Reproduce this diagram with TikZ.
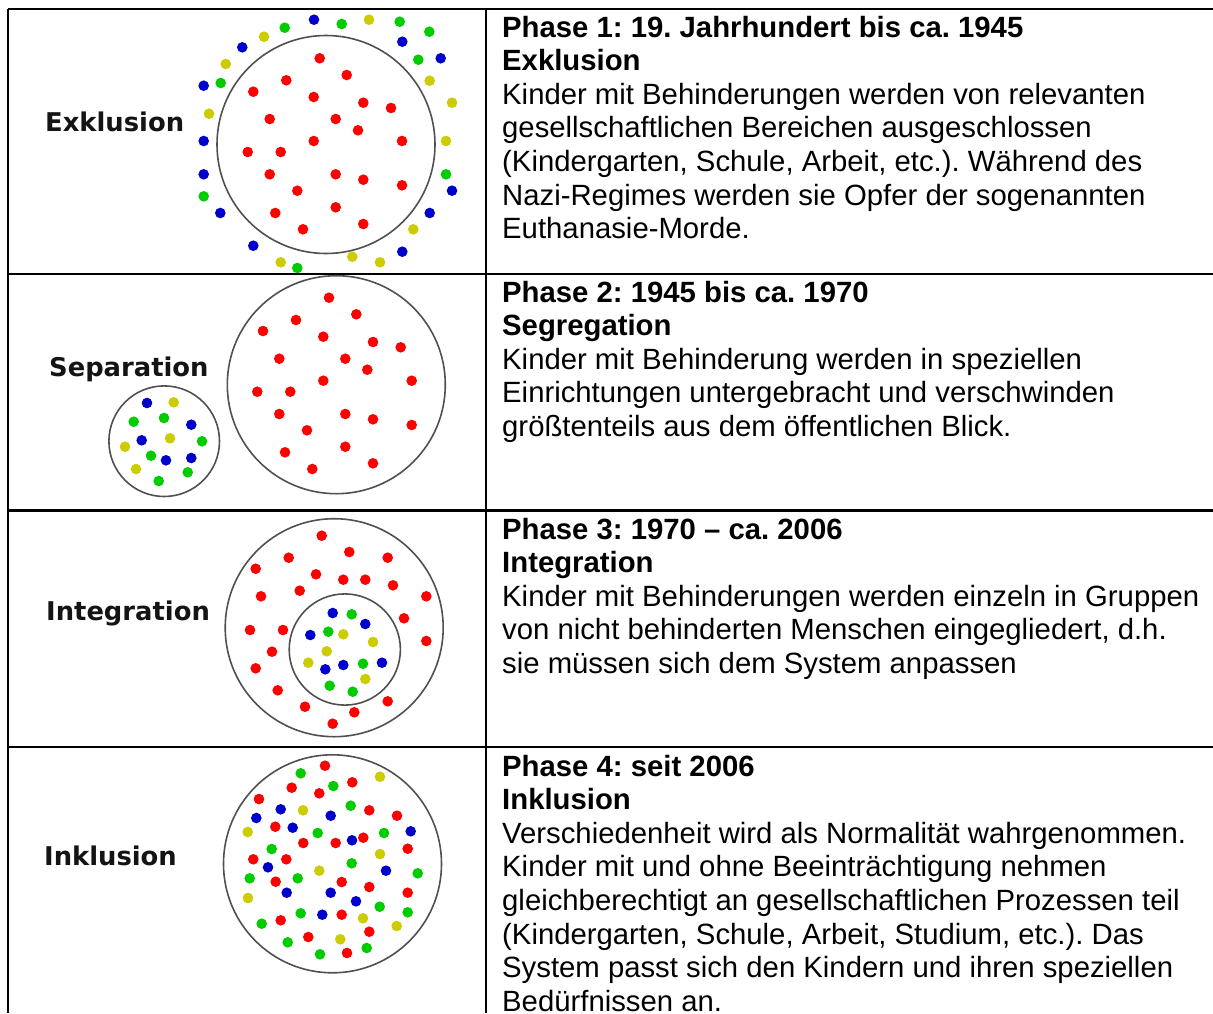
\documentclass[tikz,border=0pt]{standalone}
\usepackage{fontspec}
\setmainfont{Liberation Sans}
\newfontfamily\labfont{DejaVu Sans}
\frenchspacing
\definecolor{dR}{HTML}{FF0000}
\definecolor{dG}{HTML}{00CC00}
\definecolor{dB}{HTML}{0000CC}
\definecolor{dY}{HTML}{CCCC00}
\definecolor{ring}{HTML}{505050}
\begin{document}
\begin{tikzpicture}[x=1pt,y=-1pt,
  rule/.style={line width=2.5pt,black},
  ringc/.style={draw=ring,line width=1.6pt},
  lab/.style={anchor=base west,inner sep=0pt,font=\labfont\bfseries\fontsize{25.8}{30}\selectfont,text=black!92},
  txt/.style={anchor=base west,inner sep=0pt,font=\frenchspacing\fontsize{29.3}{33.6}\selectfont},
  txtb/.style={txt,font=\frenchspacing\bfseries\fontsize{29.3}{33.6}\selectfont}]
\useasboundingbox (0,0) rectangle (1213,1013);
% table rules
\coordinate (tl) at (8,9);
\coordinate (tr) at (1213,9);
\coordinate (bl) at (8,1013);
\coordinate (mt) at (486,9);
\coordinate (mb) at (486,1013);
\coordinate (r1l) at (8,274); \coordinate (r1r) at (1213,274);
\coordinate (r2l) at (8,510.5); \coordinate (r2r) at (1213,510.5);
\coordinate (r3l) at (8,747); \coordinate (r3r) at (1213,747);
\draw[rule] (tl) -- (tr);
\draw[rule] (r1l) -- (r1r);
\draw[rule] (r2l) -- (r2r);
\draw[rule] (r3l) -- (r3r);
\draw[rule] (tl) -- (bl);
\draw[rule] (mt) -- (mb);
% labels
\node[lab] (l1) at (45,131) {Exklusion};
\node[lab] (l2) at (49,376) {Separation};
\node[lab] (l3) at (46,620) {Integration};
\node[lab] (l4) at (44,865) {Inklusion};
% ---- Exklusion
\draw[ringc] (326,144.5) circle[radius=109pt];
\foreach \p in {(319.7,58.3),(346.7,75),(286.3,80.3),(253.3,91.7),(313.7,97),(363.3,102.7),(391,108),(269.7,119),(335.7,119),(358,130.3),(313.7,141),(402,141),(247.7,152),(280.7,152),(269.7,174.3),(335.7,174.3),(363.3,179.7),(402,185.3),(297.3,190.7),(275.3,213),(335.7,207.3),(363.3,224),(303,229.3)}
  \fill[dR] \p circle[radius=5.3pt];
\foreach \p in {(314,19.7),(402.3,41.7),(242.3,47.3),(203.7,85.7),(203.7,141),(203.7,174.3),(220.3,213),(253.3,245.7),(402.3,251.7),(429.7,213),(452,190.7),(440.7,58.3)}
  \fill[dB] \p circle[radius=5.3pt];
\foreach \p in {(341.7,24),(399.7,21.7),(429.3,31.7),(284.7,27.7),(220.7,83),(203.7,196.3),(297.3,268),(446,174.3),(418.3,59.7)}
  \fill[dG] \p circle[radius=5.3pt];
\foreach \p in {(369,19.7),(264,36.7),(225.7,64),(209,113.7),(280.7,262.3),(352.3,256.7),(380,262.3),(413.3,229.3),(446,141),(452,102.7),(429.7,80.7)}
  \fill[dY] \p circle[radius=5.3pt];
% ---- Separation
\draw[ringc] (336.3,384.7) circle[radius=109pt];
\draw[ringc] (164.2,441.2) circle[radius=55.3pt];
\foreach \p in {(329,297.7),(356.3,314.3),(296,320),(263,331),(323.3,336.7),(373,342),(400.7,347.3),(279.3,358.7),(345.3,358.7),(367.3,369.7),(323.3,380.7),(411.7,380.7),(257.3,391.7),(290.3,391.7),(279.3,414),(345.3,414),(373,419.3),(411.7,425),(307,430.3),(285,452.3),(345.3,446.7),(373,463.3),(312.3,469)}
  \fill[dR] \p circle[radius=5.3pt];
\foreach \p in {(147,403),(191.3,424.7),(141.7,440.3),(166,460.3),(191.3,458)}
  \fill[dB] \p circle[radius=5.3pt];
\foreach \p in {(133.7,421.7),(164,418),(202,441.3),(151,455.7),(187.7,472.3),(158.7,481)}
  \fill[dG] \p circle[radius=5.3pt];
\foreach \p in {(173.7,402.3),(170,438.3),(125,446.7),(136,469)}
  \fill[dY] \p circle[radius=5.3pt];
% ---- Integration
\draw[ringc] (334.2,627.7) circle[radius=109pt];
\draw[ringc] (344.8,649.5) circle[radius=55.6pt];
\foreach \p in {(321.7,535.7),(349.3,552),(288.7,557.7),(387.7,557.7),(255.7,568.7),(316,574.3),(343.3,579.7),(365.3,579.7),(393,585.3),(261,596.3),(299.7,590.7),(426.3,596.3),(404,618.3),(250,630),(283,630),(426.3,641),(272,651.7),(255.7,668.3),(277.7,690.3),(387.7,701.3),(305,706.7),(354.3,712.3),(332.7,723.7)}
  \fill[dR] \p circle[radius=5.3pt];
\foreach \p in {(332.7,613),(365.3,624),(310.3,635),(325.3,669.3),(343.3,665),(382,662.7)}
  \fill[dB] \p circle[radius=5.3pt];
\foreach \p in {(351.7,614.3),(328.3,631.7),(363,663.7),(329.7,685.7),(352.7,691.7)}
  \fill[dG] \p circle[radius=5.3pt];
\foreach \p in {(343.3,634.3),(373,642),(326.7,651.3),(308.3,662.7),(365.3,679)}
  \fill[dY] \p circle[radius=5.3pt];
% ---- Inklusion
\draw[ringc] (332.5,863.8) circle[radius=109pt];
\foreach \p in {(325,765.7),(352.3,782.3),(291.7,787.7),(319.3,793.3),(259,799),(369.3,810.3),(397,815.7),(275.3,826.7),(303.3,843),(335.7,843),(363.3,837.7),(407.7,848.7),(253.3,859.3),(286.3,859.3),(275.7,881.7),(341.7,882),(369.3,887),(407.7,892.7),(341.7,914.7),(280.7,920.3),(369.3,931.7),(308.3,937),(347,953)}
  \fill[dR] \p circle[radius=5.3pt];
\foreach \p in {(280.7,809.3),(256.3,818),(330.7,815.7),(292.7,827.7),(410.7,831.3),(352,840.3),(268,867.3),(386,870.7),(286.7,892.7),(330.7,892.7),(356,901.3),(322.3,914.7)}
  \fill[dB] \p circle[radius=5.3pt];
\foreach \p in {(300.7,773.3),(333.3,786),(350.7,805.7),(317.7,833),(384,833),(271.7,849),(351.7,863.3),(417.7,873.3),(249.7,878.3),(297.7,878.3),(379.7,906.7),(407.7,912.3),(300.7,913.3),(261.7,923.7),(287.7,942.3),(366.7,948),(320,954.3)}
  \fill[dG] \p circle[radius=5.3pt];
\foreach \p in {(380,776.7),(303,810.3),(247.7,832),(380,854),(319.3,870.7),(248,898),(363,918.3),(396.7,926),(340.3,939.3)}
  \fill[dY] \p circle[radius=5.3pt];
% ---- texts
\node[txtb] (a1) at (502,37) {Phase 1: 19. Jahrhundert bis ca. 1945};
\node[txtb] (a2) at (502,70.6) {Exklusion};
\node[txt] (a3) at (502,104.2) {Kinder mit Behinderungen werden von relevanten};
\node[txt] (a4) at (502,137.8) {gesellschaftlichen Bereichen ausgeschlossen};
\node[txt] (a5) at (502,171.4) {(Kindergarten, Schule, Arbeit, etc.). Während des};
\node[txt] (a6) at (502,205) {Nazi-Regimes werden sie Opfer der sogenannten};
\node[txt] (a7) at (502,238.6) {Euthanasie-Morde.};
\node[txtb] (b1) at (502,302) {Phase 2: 1945 bis ca. 1970};
\node[txtb] (b2) at (502,335.6) {Segregation};
\node[txt] (b3) at (502,369.2) {Kinder mit Behinderung werden in speziellen};
\node[txt] (b4) at (502,402.8) {Einrichtungen untergebracht und verschwinden};
\node[txt] (b5) at (502,436.4) {größtenteils aus dem öffentlichen Blick.};
\node[txtb] (c1) at (502,539) {Phase 3: 1970 – ca. 2006};
\node[txtb] (c2) at (502,572.6) {Integration};
\node[txt] (c3) at (502,606.2) {Kinder mit Behinderungen werden einzeln in Gruppen};
\node[txt] (c4) at (502,639.8) {von nicht behinderten Menschen eingegliedert, d.h.};
\node[txt] (c5) at (502,673.4) {sie müssen sich dem System anpassen};
\node[txtb] (d1) at (502,776) {Phase 4: seit 2006};
\node[txtb] (d2) at (502,809.6) {Inklusion};
\node[txt] (d3) at (502,843.2) {Verschiedenheit wird als Normalität wahrgenommen.};
\node[txt] (d4) at (502,876.8) {Kinder mit und ohne Beeinträchtigung nehmen};
\node[txt] (d5) at (502,910.4) {gleichberechtigt an gesellschaftlichen Prozessen teil};
\node[txt] (d6) at (502,944) {(Kindergarten, Schule, Arbeit, Studium, etc.). Das};
\node[txt] (d7) at (502,977.6) {System passt sich den Kindern und ihren speziellen};
\node[txt] (d8) at (502,1011.2) {Bedürfnissen an.};
\end{tikzpicture}
\end{document}
